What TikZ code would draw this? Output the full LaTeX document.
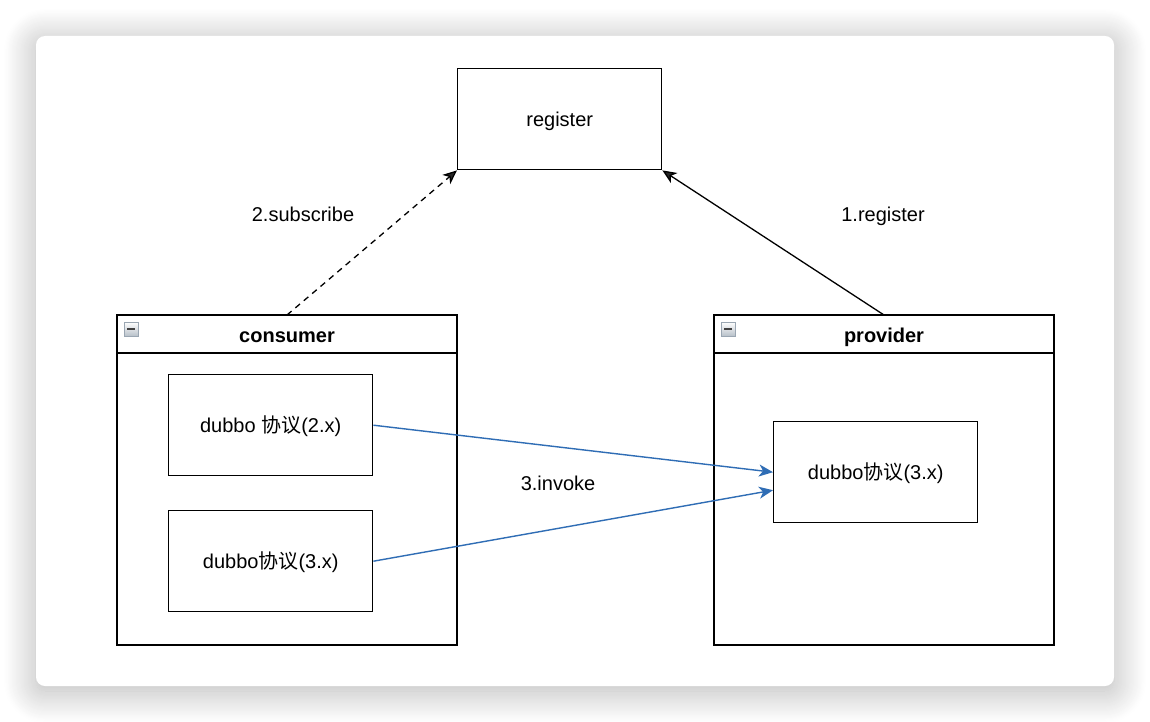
\documentclass[tikz,border=0pt]{standalone}
\usepackage{fontspec}
\setmainfont{Liberation Sans}
\newfontfamily\cjk{Noto Sans CJK SC}
\usetikzlibrary{arrows.meta,shadows.blur}
\definecolor{flow}{HTML}{2F6DB5}
\definecolor{iconedge}{HTML}{9AA6B2}
\tikzset{
  box/.style={draw=black, line width=1.4pt, inner sep=0pt},
  lane/.style={draw=black, line width=1.4pt},
  lbl/.style={font=\fontsize{20}{24}\selectfont, inner sep=0pt, text height=14pt, text depth=0pt},
  ttl/.style={font=\bfseries\fontsize{20}{24}\selectfont, inner sep=0pt, text height=14pt, text depth=0pt},
  tip/.style={-{Stealth[length=14pt,width=12pt,inset=4pt]}},
  conn/.style={line width=1.3pt, tip},
  invoke/.style={conn, draw=flow, line width=1.4pt, -{Stealth[length=14pt,width=12pt,inset=4pt,flow]}},
  icon/.style={draw=iconedge, line width=0.8pt, top color=white, bottom color=iconedge!70, minimum size=14pt, inner sep=0pt},
  iconbar/.style={line width=2.4pt, black!75},
}
\begin{document}
\begin{tikzpicture}[x=1pt,y=-1pt]
\useasboundingbox (0,0) rectangle (1150,722);
% card with shadow
\fill[white, rounded corners=9pt, blur shadow={shadow xshift=0pt, shadow yshift=-5pt, shadow blur radius=32pt, shadow opacity=30, shadow blur steps=30}] (36,36) rectangle (1114,686);
% register box
\node[box, minimum width=204pt, minimum height=101pt, anchor=north west, lbl] (reg) at (457,68) {register};
% consumer lane
\draw[lane] (117,315) rectangle (457,645);
\draw[lane] (117,353) -- (457,353);
\coordinate (consTop) at (287,315);
\node[ttl] (consT) at (287,335) {consumer};
\node[icon] (consI) at (131,329) {};
\draw[iconbar] ([xshift=-4pt]consI.center) -- ([xshift=4pt]consI.center);
% provider lane
\draw[lane] (714,315) rectangle (1054,645);
\draw[lane] (714,353) -- (1054,353);
\coordinate (provTop) at (884,315);
\node[ttl] (provT) at (884,335) {provider};
\node[icon] (provI) at (728,329) {};
\draw[iconbar] ([xshift=-4pt]provI.center) -- ([xshift=4pt]provI.center);
% inner boxes
\node[box, minimum width=204pt, minimum height=101pt, anchor=north west, lbl] (c2) at (168,374) {dubbo {\cjk 协议}(2.x)};
\node[box, minimum width=204pt, minimum height=101pt, anchor=north west, lbl] (c3) at (168,510) {dubbo{\cjk 协议}(3.x)};
\node[box, minimum width=204pt, minimum height=101pt, anchor=north west, lbl] (p3) at (773,421) {dubbo{\cjk 协议}(3.x)};
% connectors
\draw[conn, dash pattern=on 6pt off 5pt] (consTop) -- (reg.south west);
\draw[conn] (provTop) -- (reg.south east);
\draw[invoke] (c2.east) -- (p3.west);
\draw[invoke] (c3.east) -- ([yshift=-18pt]p3.west);
% labels
\node[lbl] (l2) at (303,214) {2.subscribe};
\node[lbl] (l1) at (883,214) {1.register};
\node[lbl] (l3) at (558,483) {3.invoke};
\end{tikzpicture}
\end{document}
